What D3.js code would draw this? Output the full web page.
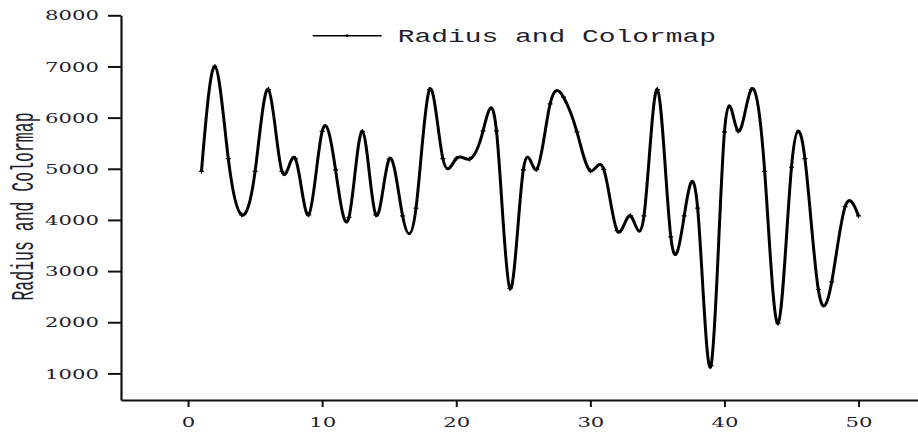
<!DOCTYPE html>
<html>
<head>
<meta charset="utf-8">
<script src="https://cdn.jsdelivr.net/npm/d3@7"></script>
<style>
  html, body { margin: 0; padding: 0; background: #fff; }
  svg { display: block; }
</style>
</head>
<body>
<svg id="chart" width="918" height="432"></svg>
<script>
// Sample index and measured value for each point
const xs = [1,2,3,4,5,6,7,8,9,10,11,12,13,14,15,16,17,18,19,20,21,22,23,24,25,
            26,27,28,29,30,31,32,33,34,35,36,37,38,39,40,41,42,43,44,45,46,47,48,49,50];
const values = [4950,7000,5200,4100,4950,6550,4950,5200,4100,5730,
                4980,4050,5730,4100,5190,4080,4230,6550,5200,5200,
                5190,5740,5740,2660,4980,4990,6270,6400,5720,4960,
                4990,3790,4080,4080,6550,3670,4080,4230,1150,5720,
                5740,6550,4950,1980,5030,5200,2640,2790,4260,4080];
const xMajorTicks = [0,10,20,30,40,50];
const xMinorTicks = [-5,5,15,25,35,45,55];
const yMajorTicks = [1000,2000,3000,4000,5000,6000,7000,8000];
const yMinorTicks = [500,1500,2500,3500,4500,5500,6500,7500];
const seriesName = "Radius and Colormap";
const yTitle = "Radius and Colormap";

const svg = d3.select("#chart");
const ink = "#1e1e2c";

const x = d3.scaleLinear().domain([-5, 55]).range([121, 925.6]);
const y = d3.scaleLinear().domain([480, 8000]).range([400, 15.3]);

// wide glyphs: text is stretched horizontally
const labelFont = "'DejaVu Serif', serif";
const sxLabel = 1.63;

// ---- y axis ----
const gy = svg.append("g").attr("transform", "translate(121,0)");
gy.call(d3.axisLeft(y).tickValues(yMinorTicks).tickSize(6.7).tickSizeOuter(0).tickFormat(""));
gy.call(d3.axisLeft(y).tickValues(yMajorTicks).tickSize(13).tickSizeOuter(0).tickFormat(d3.format("d")));
gy.selectAll("path.domain").attr("stroke", "#111").attr("stroke-width", 2.2);
gy.selectAll(".tick line").attr("stroke", "#111").attr("stroke-width", 2);
gy.selectAll(".tick text")
  .attr("fill", ink)
  .attr("font-family", labelFont)
  .attr("font-size", 13)
  .attr("x", -22 / sxLabel)
  .attr("dy", "0.36em")
  .attr("transform", `scale(${sxLabel},1)`);

// ---- x axis ----
const gx = svg.append("g").attr("transform", "translate(0,400)");
gx.call(d3.axisBottom(x).tickValues(xMinorTicks).tickSize(4).tickSizeOuter(0).tickFormat(""));
gx.call(d3.axisBottom(x).tickValues(xMajorTicks).tickSize(7).tickSizeOuter(0).tickFormat(d3.format("d")));
gx.selectAll("path.domain").attr("stroke", "#111").attr("stroke-width", 2);
gx.selectAll(".tick line").attr("stroke", "#111").attr("stroke-width", 2);
gx.selectAll(".tick text")
  .attr("fill", ink)
  .attr("font-family", labelFont)
  .attr("font-size", 13)
  .attr("y", 26.7)
  .attr("dy", 0)
  .attr("transform", `scale(${sxLabel},1)`)
  .attr("x", 0);
// keep horizontal centre under the tick after scaling
gx.selectAll(".tick").each(function(d) {
  d3.select(this).select("text").attr("x", 0);
});

// ---- y title ----
svg.append("text")
  .attr("transform", "translate(33.3,206.5) scale(1.9,1) rotate(-90)")
  .attr("text-anchor", "middle")
  .attr("font-family", "'Liberation Mono', monospace")
  .attr("font-size", 16.5)
  .attr("fill", ink)
  .text(yTitle);

// ---- series ----
const pts = xs.map((d, i) => [d, values[i]]);
const line = d3.line().x(d => x(d[0])).y(d => y(d[1])).curve(d3.curveNatural);
svg.append("path")
  .datum(pts)
  .attr("d", line)
  .attr("fill", "none")
  .attr("stroke", "#000")
  .attr("stroke-width", 3)
  .attr("stroke-linejoin", "round");

// small cross markers at each sample
svg.append("g").selectAll("path")
  .data(pts)
  .join("path")
  .attr("d", d => {
    const cx = x(d[0]), cy = y(d[1]);
    return `M${cx - 2.5},${cy}H${cx + 2.5}M${cx},${cy - 2.5}V${cy + 2.5}`;
  })
  .attr("stroke", "#000")
  .attr("stroke-width", 1.2);

// ---- legend ----
const lg = svg.append("g");
lg.append("line")
  .attr("x1", 312.7).attr("x2", 381.7)
  .attr("y1", 35.7).attr("y2", 35.7)
  .attr("stroke", "#000").attr("stroke-width", 1.6);
lg.append("circle")
  .attr("cx", 347.2).attr("cy", 35.7).attr("r", 1.4)
  .attr("fill", "#000");
lg.append("text")
  .attr("transform", "translate(397.7,42.3) scale(1.47,1)")
  .attr("font-family", "'Liberation Mono', monospace")
  .attr("font-size", 19)
  .attr("fill", ink)
  .text(seriesName);
</script>
</body>
</html>
